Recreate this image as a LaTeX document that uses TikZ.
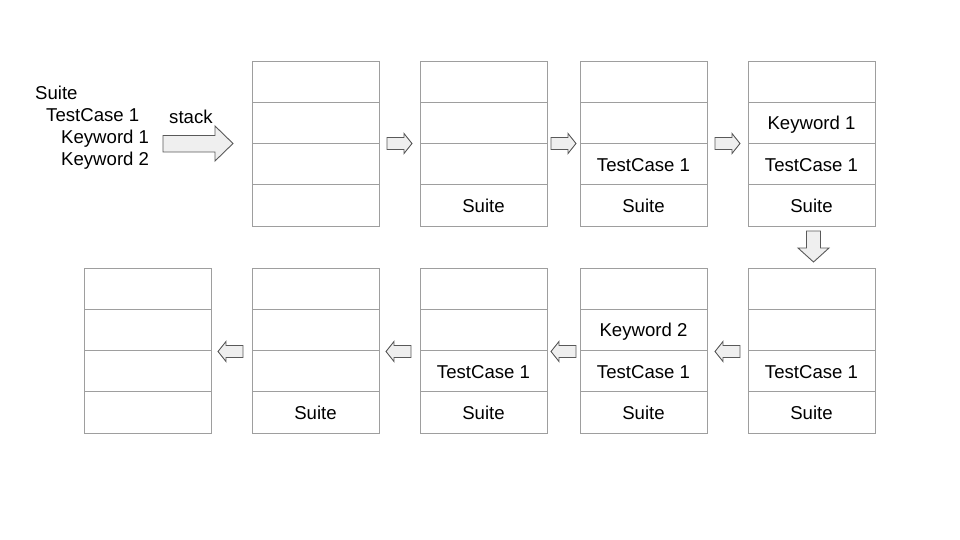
\documentclass[tikz,border=0pt]{standalone}
\usepackage{fontspec}
\setmainfont{Liberation Sans}
\definecolor{cellgray}{HTML}{9E9E9E}
\definecolor{arrowfill}{HTML}{EFEFEF}
\definecolor{arrowline}{HTML}{595959}
\tikzset{
  cell/.style={draw=cellgray, line width=0.9pt, minimum width=127pt, minimum height=41.25pt, inner sep=0pt, text height=16pt, text depth=2pt, font=\fontsize{18.6}{21}\selectfont},
  lbl/.style={anchor=base west, inner sep=0pt, font=\fontsize{18.6}{21}\selectfont},
  blockarrow/.style={draw=arrowline, fill=arrowfill, line width=0.9pt, line join=miter}
}
\newcommand{\rarr}[2]{% left x, centre y
  \draw[blockarrow] (#1,#2-6) -- ++(17,0) -- ++(0,-4) -- ++(8,10) -- ++(-8,10) -- ++(0,-4) -- ++(-17,0) -- cycle;}
\newcommand{\larr}[2]{% right x, centre y
  \draw[blockarrow] (#1,#2-6) -- ++(-17,0) -- ++(0,-4) -- ++(-8,10) -- ++(8,10) -- ++(0,-4) -- ++(17,0) -- cycle;}
\begin{document}
\begin{tikzpicture}[x=1pt,y=-1pt]
\useasboundingbox (0,0) rectangle (960,540);
% left text
\node[lbl] (s) at (35,99.5) {Suite};
\node[lbl] (tc) at (46,121.7) {TestCase 1};
\node[lbl] (k1) at (61,143.3) {Keyword 1};
\node[lbl] (k2) at (61,165) {Keyword 2};
\node[lbl] (stk) at (169,124) {stack};
% big arrow
\draw[blockarrow] (163,135.5) -- (215,135.5) -- (215,126) -- (233,143.5) -- (215,161) -- (215,152) -- (163,152) -- cycle;
% top row stacks
\foreach \n/\x/\a/\b/\c/\d in {A/252/{}/{}/{}/{}, B/420/{}/{}/{}/Suite, C/580/{}/{}/TestCase 1/Suite, D/748/{}/Keyword 1/TestCase 1/Suite}{
  \node[cell] (\n1) at (\x+63.5,81.6) {\a};
  \node[cell] (\n2) at (\x+63.5,122.9) {\b};
  \node[cell] (\n3) at (\x+63.5,164.1) {\c};
  \node[cell] (\n4) at (\x+63.5,205.4) {\d};
}
% bottom row stacks
\foreach \n/\x/\a/\b/\c/\d in {E/748/{}/{}/TestCase 1/Suite, F/580/{}/Keyword 2/TestCase 1/Suite, G/420/{}/{}/TestCase 1/Suite, H/252/{}/{}/{}/Suite, I/84/{}/{}/{}/{}}{
  \node[cell] (\n1) at (\x+63.5,288.6) {\a};
  \node[cell] (\n2) at (\x+63.5,329.9) {\b};
  \node[cell] (\n3) at (\x+63.5,371.1) {\c};
  \node[cell] (\n4) at (\x+63.5,412.4) {\d};
}
% small right arrows
\rarr{387}{143.5}
\rarr{551}{143.5}
\rarr{715}{143.5}
% down arrow
\draw[blockarrow] (806.5,231) -- (820.5,231) -- (820.5,248) -- (829,248) -- (813.5,262) -- (798,248) -- (806.5,248) -- cycle;
% small left arrows
\larr{243}{351.5}
\larr{411}{351.5}
\larr{576}{351.5}
\larr{740}{351.5}
\end{tikzpicture}
\end{document}
